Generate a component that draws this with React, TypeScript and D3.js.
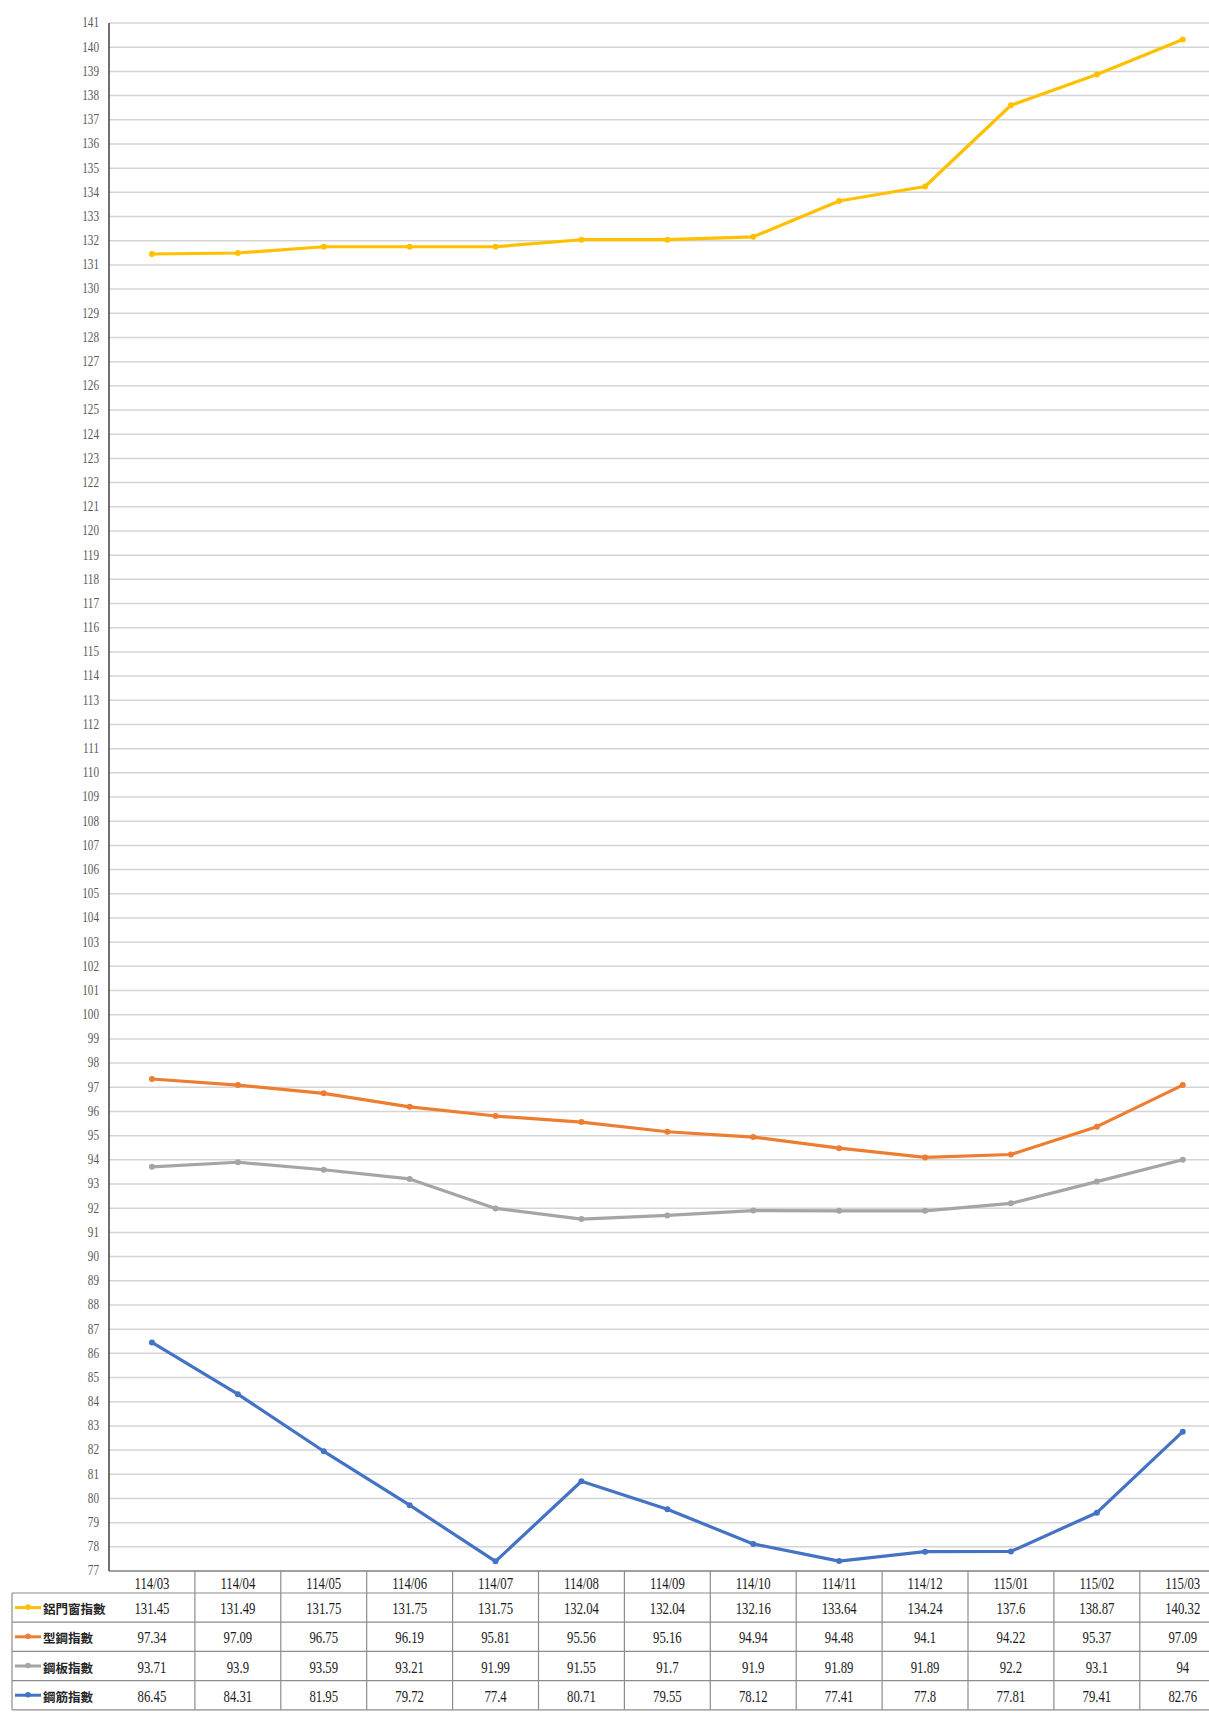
import React from "react";
import * as d3 from "d3";

const months = ["114/03","114/04","114/05","114/06","114/07","114/08","114/09","114/10","114/11","114/12","115/01","115/02","115/03"];
const aluminumIdx = [131.45,131.49,131.75,131.75,131.75,132.04,132.04,132.16,133.64,134.24,137.6,138.87,140.32];
const sectionSteelIdx = [97.34,97.09,96.75,96.19,95.81,95.56,95.16,94.94,94.48,94.1,94.22,95.37,97.09];
const steelPlateIdx = [93.71,93.9,93.59,93.21,91.99,91.55,91.7,91.9,91.89,91.89,92.2,93.1,94];
const rebarIdx = [86.45,84.31,81.95,79.72,77.4,80.71,79.55,78.12,77.41,77.8,77.81,79.41,82.76];
const seriesNames = ["鋁門窗指數","型鋼指數","鋼板指數","鋼筋指數"];
const seriesColors = ["#FFC000","#ED7D31","#A5A5A5","#4472C4"];
const yMin = 77;
const yMax = 141;

const W = 1209;
const H = 1713;
const plotLeft = 109;
const bandW = 85.9;
const plotTop = 23;
const plotBottom = 1571;
const headerH = 22;
const rowH = 29.2;
const legendLeft = 12;

export default function App() {
  const series = [aluminumIdx, sectionSteelIdx, steelPlateIdx, rebarIdx];
  const x = d3.scaleBand<string>().domain(months).range([plotLeft, plotLeft + bandW * months.length]).padding(0);
  const y = d3.scaleLinear().domain([yMin, yMax]).range([plotBottom, plotTop]);
  const ticks = d3.range(yMin, yMax + 1, 1);
  const cx = (m: string) => (x(m) as number) + x.bandwidth() / 2;
  const line = d3.line<number>().x((_, i) => cx(months[i])).y((d) => y(d));
  const rowTop = (r: number) => plotBottom + headerH + r * rowH;
  const tableBottom = rowTop(series.length);
  const serif = "'Liberation Serif', 'DejaVu Serif', serif";

  return (
    <svg width={W} height={H} style={{ position: "absolute", left: 0, top: 0, background: "#fff" }}>
      <rect x={0} y={0} width={W} height={H} fill="#fff" />
      {ticks.filter((t) => t !== yMin).map((t) => (
        <line key={"g" + t} x1={plotLeft} x2={W} y1={y(t)} y2={y(t)} stroke="#d4d4d4" strokeWidth={1.5} />
      ))}
      {ticks.map((t) => (
        <text key={"t" + t} transform={`translate(99,${y(t)}) scale(0.8,1)`} textAnchor="end" dominantBaseline="central"
          fontFamily={serif} fontSize={14} fill="#595959">{t}</text>
      ))}
      <line x1={plotLeft} x2={W} y1={plotBottom} y2={plotBottom} stroke="#7f7f7f" strokeWidth={1.5} />
      {d3.range(0, series.length + 1).map((r) => (
        <line key={"h" + r} x1={legendLeft} x2={W} y1={rowTop(r)} y2={rowTop(r)} stroke="#8c8c8c" strokeWidth={1.2} />
      ))}
      <line x1={legendLeft} x2={legendLeft} y1={rowTop(0)} y2={tableBottom} stroke="#8c8c8c" strokeWidth={1.2} />
      {months.map((m, i) => (
        <line key={"v" + i} x1={(x(m) as number) + bandW} x2={(x(m) as number) + bandW} y1={plotBottom} y2={tableBottom} stroke="#8c8c8c" strokeWidth={1.2} />
      ))}
      {months.map((m) => (
        <text key={"m" + m} transform={`translate(${cx(m)},${plotBottom + headerH / 2 + 1}) scale(0.75,1)`} textAnchor="middle" dominantBaseline="central"
          fontFamily={serif} fontSize={17} fill="#1a1a1a">{m}</text>
      ))}
      {series.map((s, r) => s.map((v, i) => (
        <text key={"v" + r + "-" + i} transform={`translate(${cx(months[i])},${rowTop(r) + rowH / 2 + 1}) scale(0.75,1)`} textAnchor="middle" dominantBaseline="central"
          fontFamily={serif} fontSize={17} fill="#1a1a1a">{String(v)}</text>
      )))}
      {seriesNames.map((n, r) => {
        const yy = rowTop(r) + rowH / 2;
        return (
          <g key={"l" + r}>
            <line x1={15} x2={41} y1={yy} y2={yy} stroke={seriesColors[r]} strokeWidth={3} />
            <circle cx={28} cy={yy - 0.5} r={2.8} fill={seriesColors[r]} />
            <text x={43} y={yy + 1} dominantBaseline="central" fontFamily="'Noto Sans CJK TC', sans-serif" fontWeight={700}
              fontSize={12.5} fill="#262626">{n}</text>
          </g>
        );
      })}
      <line x1={plotLeft} x2={plotLeft} y1={plotTop} y2={plotBottom} stroke="#404040" strokeWidth={1.5} />
      {series.map((s, r) => (
        <g key={"s" + r}>
          <path d={line(s) as string} fill="none" stroke={seriesColors[r]} strokeWidth={3.2} strokeLinejoin="round" />
          {s.map((v, i) => (
            <circle key={i} cx={cx(months[i])} cy={y(v)} r={3} fill={seriesColors[r]} />
          ))}
        </g>
      ))}
    </svg>
  );
}
